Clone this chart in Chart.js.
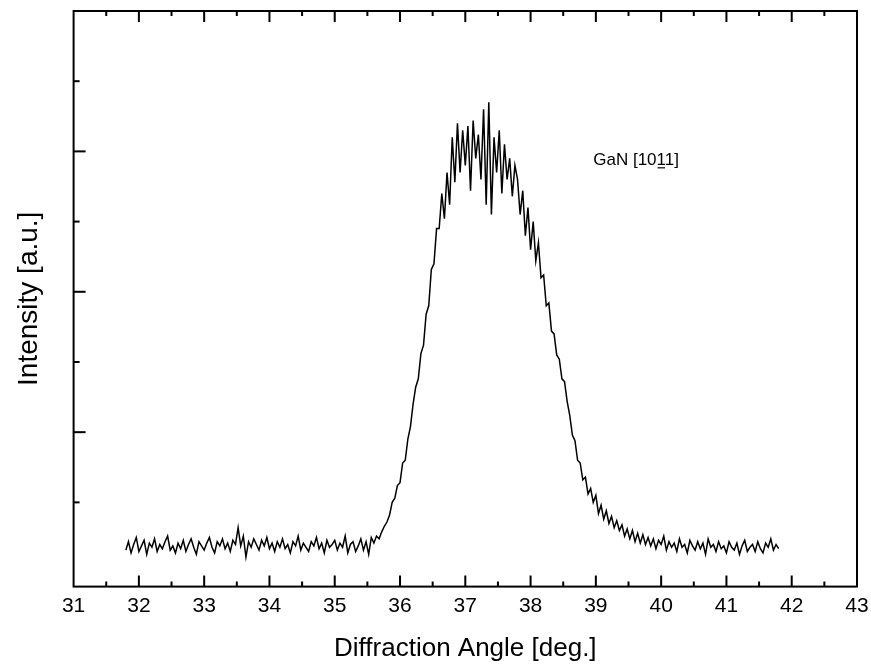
<!DOCTYPE html>
<html>
<head>
<meta charset="utf-8">
<script src="https://cdn.jsdelivr.net/npm/chart.js@4"></script>
<style>
  html, body { margin: 0; padding: 0; background: #fff; }
  canvas { display: block; }
</style>
</head>
<body>
<canvas id="xrdChart" width="871" height="667"></canvas>
<script>
// scan: 31.80 .. 41.80 deg, one reading every 0.04 deg
const angleStart = 31.8;
const angleStep = 0.04;

// intensidad (1 unidad = un tick mayor del eje y)
const intensity = [
  0.16, 0.22, 0.14, 0.20, 0.25, 0.15, 0.19, 0.23, 0.13, 0.21,
  0.18, 0.24, 0.15, 0.20, 0.17, 0.22, 0.26, 0.16, 0.19, 0.14,
  0.21, 0.17, 0.23, 0.15, 0.20, 0.24, 0.18, 0.13, 0.22, 0.19,
  0.16, 0.21, 0.25, 0.18, 0.14, 0.22, 0.19, 0.24, 0.17, 0.21,
  0.15, 0.23, 0.20, 0.32, 0.19, 0.26, 0.11, 0.22, 0.18, 0.24,
  0.20, 0.16, 0.23, 0.19, 0.25, 0.17, 0.21, 0.15, 0.22, 0.18,
  0.24, 0.17, 0.20, 0.14, 0.22, 0.19, 0.26, 0.16, 0.21, 0.18,
  0.15, 0.22, 0.19, 0.25, 0.17, 0.21, 0.14, 0.23, 0.18, 0.20,
  0.23, 0.16, 0.21, 0.18, 0.26, 0.14, 0.20, 0.22, 0.15, 0.19,
  0.24, 0.16, 0.22, 0.13, 0.25, 0.21, 0.26, 0.24, 0.29, 0.33,
  0.36, 0.41, 0.50, 0.53, 0.62, 0.64, 0.78, 0.80, 0.95, 1.04,
  1.20, 1.32, 1.38, 1.56, 1.62, 1.84, 1.90, 2.16, 2.20, 2.45,
  2.45, 2.70, 2.52, 2.85, 2.62, 3.10, 2.78, 3.20, 2.85, 3.15,
  2.90, 3.18, 2.72, 3.22, 2.95, 3.12, 2.80, 3.30, 2.62, 3.35,
  2.55, 3.10, 2.85, 3.15, 2.70, 3.05, 2.80, 2.95, 2.68, 2.90,
  2.80, 2.55, 2.72, 2.40, 2.60, 2.30, 2.50, 2.22, 2.35, 2.10,
  2.12, 1.90, 1.92, 1.72, 1.70, 1.55, 1.52, 1.38, 1.36, 1.22,
  1.12, 0.98, 0.94, 0.80, 0.78, 0.66, 0.68, 0.56, 0.60, 0.50,
  0.55, 0.42, 0.48, 0.38, 0.44, 0.35, 0.40, 0.32, 0.37, 0.30,
  0.34, 0.26, 0.31, 0.24, 0.30, 0.22, 0.28, 0.21, 0.27, 0.20,
  0.25, 0.19, 0.24, 0.17, 0.23, 0.20, 0.26, 0.16, 0.22, 0.18,
  0.21, 0.15, 0.24, 0.18, 0.20, 0.14, 0.23, 0.19, 0.16, 0.22,
  0.17, 0.21, 0.13, 0.24, 0.18, 0.20, 0.15, 0.22, 0.17, 0.19,
  0.14, 0.22, 0.18, 0.16, 0.21, 0.13, 0.19, 0.23, 0.15, 0.18,
  0.20, 0.15, 0.22, 0.17, 0.14, 0.21, 0.18, 0.24, 0.16, 0.20,
  0.17
];

// ejes
const xMin = 31, xMax = 43, xStep = 0.5;
const yMin = -0.1, yMax = 4.0, yStep = 0.5;

const fontFamily = "'Liberation Sans', Arial, Helvetica, sans-serif";

// etiqueta del pico
const peakLabel = { x: 38.96, y: 2.94, text: "GaN [1011]", barChar: 7 };

const points = intensity.map((v, i) => ({ x: angleStart + i * angleStep, y: v }));

// marco y ticks hacia adentro (estilo Origin)
const framePlugin = {
  id: "frame",
  afterDatasetsDraw(chart) {
    const ctx = chart.ctx;
    const a = chart.chartArea;
    const xs = chart.scales.x;
    const ys = chart.scales.y;
    ctx.save();
    ctx.strokeStyle = "#000";
    ctx.lineWidth = 2;
    ctx.strokeRect(a.left, a.top, a.right - a.left, a.bottom - a.top);

    xs.ticks.forEach(t => {
      const major = Math.abs(t.value - Math.round(t.value)) < 1e-6;
      const len = major ? 11 : 5;
      const px = xs.getPixelForValue(t.value);
      if (px <= a.left + 1 || px >= a.right - 1) return;
      ctx.beginPath();
      ctx.moveTo(px, a.bottom);
      ctx.lineTo(px, a.bottom - len);
      ctx.moveTo(px, a.top);
      ctx.lineTo(px, a.top + len);
      ctx.stroke();
    });
    ys.ticks.forEach(t => {
      const r = t.value / yStep;
      if (Math.abs(r - Math.round(r)) > 1e-6 || t.value < 0) return;
      const major = Math.abs(t.value - Math.round(t.value)) < 1e-6;
      const len = major ? 12 : 6;
      const py = ys.getPixelForValue(t.value);
      ctx.beginPath();
      ctx.moveTo(a.left, py);
      ctx.lineTo(a.left + len, py);
      ctx.stroke();
    });

    // texto GaN [10-11]
    ctx.font = "17px " + fontFamily;
    ctx.fillStyle = "#000";
    ctx.textBaseline = "middle";
    const tx = xs.getPixelForValue(peakLabel.x);
    const ty = ys.getPixelForValue(peakLabel.y);
    ctx.fillText(peakLabel.text, tx, ty);
    const before = ctx.measureText(peakLabel.text.slice(0, peakLabel.barChar)).width;
    const w = ctx.measureText(peakLabel.text.charAt(peakLabel.barChar)).width;
    ctx.lineWidth = 1.2;
    ctx.beginPath();
    ctx.moveTo(tx + before + 1, ty + 8);
    ctx.lineTo(tx + before + w - 1, ty + 8);
    ctx.stroke();
    ctx.restore();
  }
};

new Chart(document.getElementById("xrdChart"), {
  type: "line",
  data: {
    datasets: [{
      data: points,
      borderColor: "#000",
      borderWidth: 1.5,
      pointRadius: 0,
      tension: 0,
      fill: false
    }]
  },
  options: {
    responsive: false,
    devicePixelRatio: 1,
    animation: false,
    layout: { padding: { top: 11, right: 14, bottom: 0, left: 0 } },
    plugins: { legend: { display: false }, tooltip: { enabled: false } },
    scales: {
      x: {
        type: "linear",
        min: xMin,
        max: xMax,
        grid: { display: false, drawTicks: false },
        border: { display: false },
        afterFit: scale => { scale.paddingLeft = 0; scale.paddingRight = 0; },
        ticks: {
          stepSize: xStep,
          autoSkip: false,
          maxRotation: 0,
          padding: 7,
          color: "#000",
          font: { family: fontFamily, size: 21 },
          callback: v => (Math.abs(v - Math.round(v)) < 1e-6 ? String(Math.round(v)) : "")
        },
        title: {
          display: true,
          text: "Diffraction Angle [deg.]",
          color: "#000",
          font: { family: fontFamily, size: 26 },
          padding: { top: 7, bottom: 3 }
        }
      },
      y: {
        type: "linear",
        min: yMin,
        max: yMax,
        grid: { display: false, drawTicks: false },
        border: { display: false },
        ticks: { display: false, stepSize: yStep },
        title: {
          display: true,
          text: "Intensity [a.u.]",
          color: "#000",
          font: { family: fontFamily, size: 28 },
          padding: { top: 12, bottom: 28 }
        }
      }
    }
  },
  plugins: [framePlugin]
});
</script>
</body>
</html>
